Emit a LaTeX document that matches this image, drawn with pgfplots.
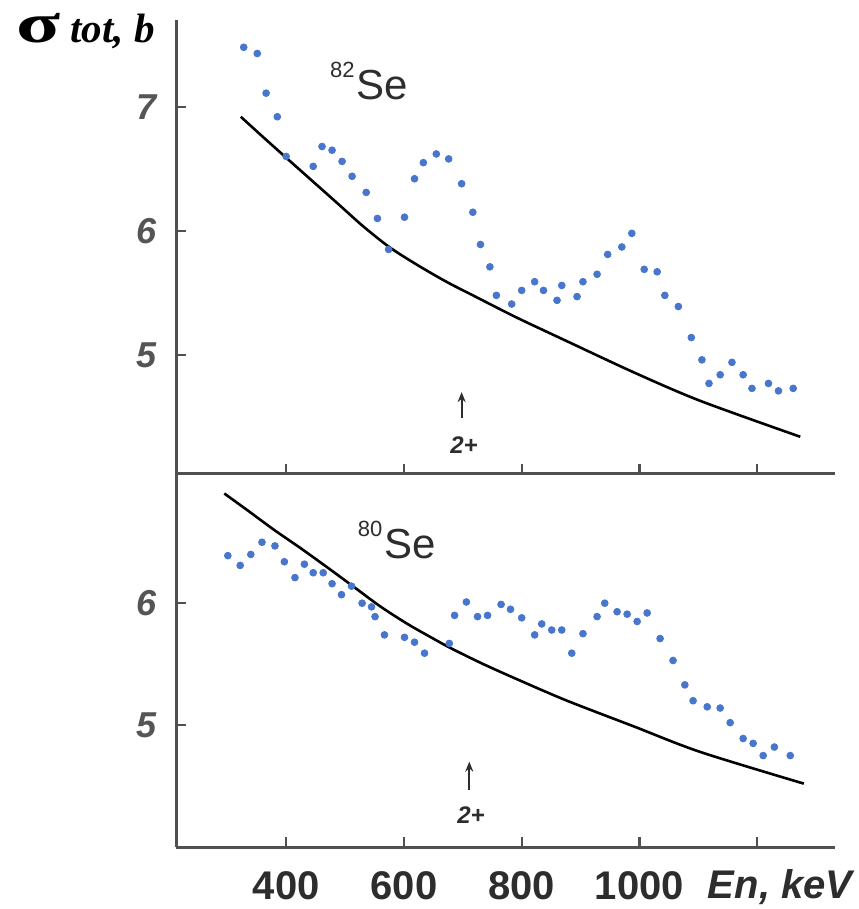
\documentclass[border=0pt]{standalone}
\usepackage{fontspec}
\setmainfont{Liberation Sans}
\newfontfamily\seriffont{Liberation Serif}
\usepackage{pgfplots}
\pgfplotsset{compat=1.18}
\usetikzlibrary{arrows.meta}
\definecolor{dotblue}{RGB}{72,118,205}
\definecolor{axgray}{RGB}{80,80,80}
\definecolor{ticklab}{RGB}{85,85,85}
\definecolor{txtgray}{RGB}{45,45,45}

\pgfplotstableread{
x y
328 7.48
351 7.43
366 7.11
385 6.92
400 6.60
446 6.52
461 6.68
478 6.65
495 6.56
512 6.44
536 6.31
555 6.10
574 5.85
601 6.11
618 6.42
633 6.55
655 6.62
676 6.58
698 6.38
717 6.15
730 5.89
746 5.71
757 5.48
783 5.41
800 5.52
822 5.59
837 5.52
860 5.44
868 5.56
894 5.47
904 5.59
928 5.65
946 5.81
970 5.87
987 5.98
1008 5.69
1030 5.67
1043 5.48
1066 5.39
1088 5.14
1106 4.96
1118 4.77
1137 4.84
1157 4.94
1176 4.84
1191 4.73
1219 4.77
1236 4.71
1261 4.73
}\topdata

\pgfplotstableread{
x y
323 6.92
360 6.76
400 6.59
445 6.40
490 6.21
530 6.04
575 5.87
621 5.73
672 5.59
713 5.49
792 5.30
877 5.11
990 4.86
1103 4.63
1273 4.34
}\topcurve

\pgfplotstableread{
x y
301 6.39
322 6.31
340 6.40
359 6.50
381 6.47
397 6.34
415 6.21
431 6.32
446 6.25
463 6.25
478 6.16
494 6.07
511 6.14
529 6.00
545 5.97
551 5.89
567 5.74
601 5.72
618 5.68
635 5.59
677 5.67
686 5.90
706 6.01
725 5.89
742 5.90
765 5.99
781 5.95
800 5.88
822 5.74
834 5.83
851 5.78
868 5.78
885 5.59
904 5.75
928 5.89
941 6.00
962 5.93
979 5.91
996 5.85
1013 5.92
1035 5.71
1057 5.53
1077 5.33
1091 5.20
1115 5.15
1137 5.14
1154 5.02
1176 4.89
1193 4.85
1210 4.75
1229 4.82
1256 4.75
}\botdata

\pgfplotstableread{
x y
295 6.90
335 6.76
380 6.60
425 6.45
471 6.29
516 6.13
561 5.97
606 5.83
646 5.72
680 5.63
735 5.50
795 5.37
877 5.20
990 4.99
1103 4.78
1279 4.52
}\botcurve

\begin{document}
\begin{tikzpicture}
\path[use as bounding box] (0,0) rectangle (429pt,454.5pt);
\pgfplotsset{
  base/.style={
    scale only axis, width=329.5pt, xmin=213, xmax=1332,
    axis x line=bottom, axis y line=left,
    axis line style={-, line width=1.5pt, axgray},
    tick align=inside, major tick length=5pt,
    tick style={line width=1.2pt, axgray},
    xtick={400,600,800,1000,1200},
    /pgf/number format/assume math mode=true,
    yticklabel style={font=\fontsize{18}{18}\selectfont\bfseries\itshape, text=ticklab, xshift=-6pt},
    xticklabel style={font=\fontsize{20}{20}\selectfont\bfseries, text=txtgray, yshift=-9pt},
    clip=false,
  },
  dots/.style={only marks, mark=*, mark size=1.7pt, color=dotblue},
  curve/.style={black, line width=1.3pt, smooth, tension=0.5, no marks},
}
% bottom panel (80Se)
\begin{axis}[base, at={(88pt,31pt)}, anchor=south west, height=186.5pt,
  ymin=4.0, ymax=7.06, ytick={5,6},
  xticklabels={400,600,800,1000,{}}]
\addplot[dots] table[x=x,y=y] {\botdata};
\addplot[curve] table[x=x,y=y] {\botcurve};
\node[anchor=base west, inner sep=0, text=txtgray] at (axis cs:521,6.37)
  {\raisebox{11pt}{\fontsize{11}{11}\selectfont 80}\hspace{1pt}{\fontsize{21}{21}\selectfont Se}};
\draw[-{Stealth[length=5pt,width=4pt]}, line width=1pt, txtgray] (axis cs:711,4.47) -- (axis cs:711,4.70);
\node[text=txtgray, inner sep=0] at (axis cs:714,4.26) {\fontsize{12}{12}\selectfont\bfseries\itshape 2+};
\node[text=txtgray, inner sep=0] at (axis cs:1239,4.0) [yshift=-20pt] {\fontsize{20}{20}\selectfont\bfseries\itshape En, keV};
\end{axis}
% top panel (82Se)
\begin{axis}[base, at={(88pt,217.5pt)}, anchor=south west, height=227pt,
  ymin=4.04, ymax=7.70, ytick={5,6,7},
  xticklabels={}]
\addplot[dots] table[x=x,y=y] {\topdata};
\addplot[curve] table[x=x,y=y] {\topcurve};
\node[anchor=base west, inner sep=0, text=txtgray] at (axis cs:474,7.06)
  {\raisebox{11pt}{\fontsize{11}{11}\selectfont 82}\hspace{1pt}{\fontsize{21}{21}\selectfont Se}};
\draw[-{Stealth[length=5pt,width=4pt]}, line width=1pt, txtgray] (axis cs:698,4.49) -- (axis cs:698,4.70);
\node[text=txtgray, inner sep=0] at (axis cs:702,4.27) {\fontsize{12}{12}\selectfont\bfseries\itshape 2+};
\end{axis}
\node[anchor=base west, inner sep=0, text=black] at (8pt,433pt)
  {{\seriffont\bfseries\fontsize{28}{28}\selectfont\scalebox{1.45}[1]{σ}}\hspace{5pt}{\seriffont\bfseries\itshape\fontsize{20.5}{20.5}\selectfont tot, b}};
\end{tikzpicture}
\end{document}
